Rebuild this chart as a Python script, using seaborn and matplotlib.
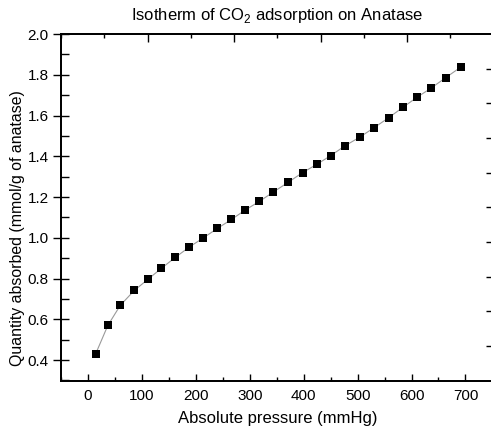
import matplotlib
matplotlib.use("Agg")
import matplotlib.pyplot as plt
import seaborn as sns
import pandas as pd
from matplotlib.ticker import MultipleLocator, FixedLocator, NullFormatter

pressure = [14, 37, 60, 86, 111, 136, 162, 187, 214, 240, 266, 292, 318, 344,
            371, 398, 424, 450, 477, 504, 531, 558, 585, 611, 636, 663, 691]
quantity = [0.429, 0.571, 0.669, 0.742, 0.796, 0.850, 0.904, 0.953, 1.000,
            1.046, 1.090, 1.137, 1.179, 1.225, 1.272, 1.320, 1.360, 1.403,
            1.452, 1.494, 1.541, 1.590, 1.642, 1.691, 1.734, 1.785, 1.837]

title = "Isotherm of CO$_2$ adsorption on Anatase"
xlabel = "Absolute pressure (mmHg)"
ylabel = "Quantity absorbed (mmol/g of anatase)"

df = pd.DataFrame({"p": pressure, "q": quantity})

sns.set_theme(style="ticks")
plt.rcParams["font.family"] = ["Liberation Sans", "DejaVu Sans"]
plt.rcParams["mathtext.fontset"] = "custom"
plt.rcParams["mathtext.rm"] = "Liberation Sans"

fig = plt.figure(figsize=(4.91, 4.36), dpi=100)
ax = fig.add_axes([61 / 491, 55.5 / 436, 432.5 / 491, 346.5 / 436])

sns.lineplot(data=df, x="p", y="q", ax=ax, color="#9a9a9a", linewidth=0.8,
             sort=False, zorder=2)
sns.scatterplot(data=df, x="p", y="q", ax=ax, marker="s", s=36, color="black",
                edgecolor="black", linewidth=0, zorder=3)

ax.set_xlim(-50, 752)
ax.set_ylim(0.3, 2.0)
ax.xaxis.set_minor_locator(MultipleLocator(50))
ax.yaxis.set_minor_locator(MultipleLocator(0.1))
ax.set_xticks([0, 100, 200, 300, 400, 500, 600, 700])
ax.set_yticks([0.4, 0.6, 0.8, 1.0, 1.2, 1.4, 1.6, 1.8, 2.0])
ax.set_yticklabels(["0.4", "0.6", "0.8", "1.0", "1.2", "1.4", "1.6", "1.8", "2.0"])

ax.tick_params(axis="x", which="major", direction="in", length=5, width=1,
               labelsize=11, pad=6, color="black", labelcolor="black")
ax.tick_params(axis="x", which="minor", direction="in", length=3, width=1,
               color="black")
ax.tick_params(axis="y", which="major", direction="inout", length=11.5, width=1,
               labelsize=11, pad=3, color="black", labelcolor="black")
ax.tick_params(axis="y", which="minor", direction="in", length=5.5, width=1,
               color="black")

ax.set_xlabel(xlabel, fontsize=12, color="black", labelpad=6)
ax.set_ylabel(ylabel, fontsize=11.4, color="black")
ax.yaxis.set_label_coords(-0.083, 0.44)
ax.set_title(title, fontsize=12, color="black", pad=10)

for s in ax.spines.values():
    s.set_visible(True)
    s.set_linewidth(1.1)
    s.set_color("black")

# top and right decorative tick axes
axt = ax.twiny()
axt.set_xlim(0, 5)
axt.xaxis.set_major_locator(FixedLocator([1, 2, 3, 4]))
axt.xaxis.set_minor_locator(MultipleLocator(0.5))
axt.xaxis.set_major_formatter(NullFormatter())
axt.tick_params(axis="x", which="major", direction="in", length=5.5, width=1, color="black")
axt.tick_params(axis="x", which="minor", direction="in", length=3, width=1, color="black")

axr = ax.twinx()
axr.set_ylim(0, 10)
axr.yaxis.set_major_locator(FixedLocator([1, 2, 3, 4, 5, 6, 7, 8, 9]))
axr.yaxis.set_major_formatter(NullFormatter())
axr.tick_params(axis="y", which="major", direction="in", length=5, width=1, color="black")

for a in (axt, axr):
    for s in a.spines.values():
        s.set_linewidth(1.1)
        s.set_color("black")

fig.savefig("out.png", dpi=100)
